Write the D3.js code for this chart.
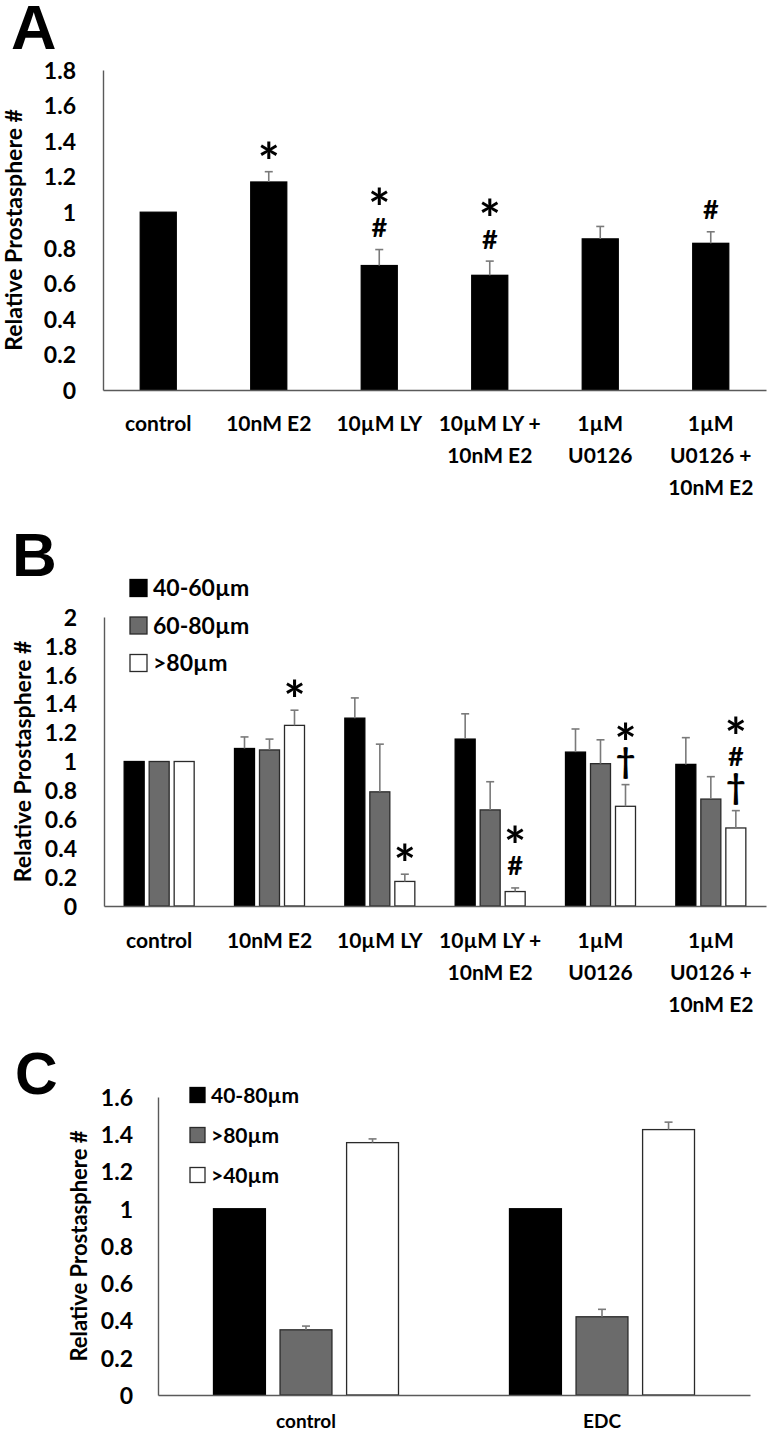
<!DOCTYPE html>
<html><head><meta charset="utf-8">
<script src="https://cdn.jsdelivr.net/npm/d3@7"></script>
<style>html,body{margin:0;padding:0;background:#fff;} svg{display:block;}</style>
</head><body><svg id="chart" width="773" height="1437"></svg>
<script>
// ---------------- data ----------------
const abCategories = [["control"], ["10nM E2"], ["10µM LY"], ["10µM LY +", "10nM E2"], ["1µM", "U0126"], ["1µM", "U0126 +", "10nM E2"]];

// Panel A
const aTicks = [0, 0.2, 0.4, 0.6, 0.8, 1, 1.2, 1.4, 1.6, 1.8];
const aValues = [1.0, 1.17, 0.70, 0.645, 0.85, 0.825];
const aErrors = [0, 0.058, 0.09, 0.08, 0.07, 0.065];
const aMarks = [[], ["*"], ["#", "*"], ["#", "*"], [], ["#"]];

// Panel B
const bSeries = ["40-60µm", "60-80µm", ">80µm"];
const bTicks = [0, 0.2, 0.4, 0.6, 0.8, 1, 1.2, 1.4, 1.6, 1.8, 2];
const b4060Values = [1, 1.09, 1.30, 1.155, 1.065, 0.98];
const b4060Errors = [0, 0.08, 0.14, 0.175, 0.16, 0.185];
const b6080Values = [1, 1.08, 0.79, 0.665, 0.985, 0.74];
const b6080Errors = [0, 0.075, 0.33, 0.195, 0.165, 0.155];
const b80Values = [1, 1.25, 0.17, 0.10, 0.69, 0.54];
const b80Errors = [0, 0.105, 0.05, 0.025, 0.15, 0.12];
const b80Marks = [[], ["*"], ["*"], ["#", "*"], ["†", "*"], ["†", "#", "*"]];

// Panel C
const cCategories = [["control"], ["EDC"]];
const cSeries = ["40-80µm", ">80µm", ">40µm"];
const cTicks = [0, 0.2, 0.4, 0.6, 0.8, 1, 1.2, 1.4, 1.6];
const c4080Values = [1, 1];
const c4080Errors = [0, 0];
const c80Values = [0.35, 0.42];
const c80Errors = [0.02, 0.04];
const c40Values = [1.355, 1.425];
const c40Errors = [0.02, 0.04];

const yTitle = "Relative Prostasphere #";

// ---------------- styles ----------------
const FONT = "Lato, 'Open Sans', sans-serif";
const seriesFill = ["#000000", "#6b6b6b", "#ffffff"];
const seriesStroke = ["#000000", "#2a2a2a", "#2a2a2a"];
const axisColor = "#5a5a5a";
const errColor = "#7a7a7a";

const svg = d3.select("#chart");
const cv = document.createElement("canvas").getContext("2d");
function inkCenterShift(ch, size) {
  cv.font = `bold ${size}px Lato`;
  const m = cv.measureText(ch);
  return (m.actualBoundingBoxAscent - m.actualBoundingBoxDescent) / 2;
}
const markSize = { "*": 52, "#": 27, "†": 34 };

function drawPanel(p) {
  const g = svg.append("g");
  const y = d3.scaleLinear().domain([0, p.yMax]).range([p.yZero, p.yTop]);
  const x = d3.scaleBand().domain(d3.range(p.categories.length)).range([p.x0, p.x1]);
  const xs = d3.scaleBand().domain(p.series.map(s => s.name))
    .range([-p.groupW / 2, p.groupW / 2]).paddingInner(p.innerPad);

  // panel letter
  g.append("text").attr("x", p.letterX).attr("y", p.letterY)
    .attr("font-family", "'Liberation Sans', Arial, sans-serif").attr("font-weight", "bold")
    .attr("font-size", p.letterSize).text(p.letter);

  // y axis
  const ya = g.append("g").attr("transform", `translate(${p.x0},0)`)
    .call(d3.axisLeft(y).tickValues(p.ticks).tickSize(0).tickSizeOuter(0).tickPadding(p.tickPad)
      .tickFormat(d3.format("~g")));
  ya.select(".domain").attr("stroke", axisColor).attr("stroke-width", 1.4);
  ya.selectAll("text").attr("font-family", FONT).attr("font-weight", "bold")
    .attr("font-size", p.tickSize).attr("fill", "#000").attr("dy", "0.36em");

  // y title
  g.append("text")
    .attr("transform", `translate(${p.titleX},${(p.yZero + p.yTop) / 2}) rotate(-90)`)
    .attr("text-anchor", "middle").attr("font-family", FONT).attr("font-weight", "bold")
    .attr("font-size", p.titleSize).text(yTitle);

  // bars
  p.series.forEach((s, si) => {
    const sg = g.append("g");
    const cx = i => x(i) + x.bandwidth() / 2 + xs(s.name);
    sg.selectAll("rect").data(s.values).join("rect")
      .attr("x", (d, i) => cx(i)).attr("width", xs.bandwidth())
      .attr("y", d => y(d)).attr("height", d => y(0) - y(d))
      .attr("fill", seriesFill[si]).attr("stroke", seriesStroke[si]).attr("stroke-width", 1.3);
    // error bars
    const eg = sg.selectAll("g.err").data(s.values.map((v, i) => ({ v, e: s.errors[i], i })).filter(d => d.e > 0))
      .join("g").attr("class", "err");
    eg.append("line")
      .attr("x1", d => cx(d.i) + xs.bandwidth() / 2).attr("x2", d => cx(d.i) + xs.bandwidth() / 2)
      .attr("y1", d => y(d.v)).attr("y2", d => y(d.v + d.e))
      .attr("stroke", errColor).attr("stroke-width", 1.6);
    eg.append("line")
      .attr("x1", d => cx(d.i) + xs.bandwidth() / 2 - 4).attr("x2", d => cx(d.i) + xs.bandwidth() / 2 + 4)
      .attr("y1", d => y(d.v + d.e)).attr("y2", d => y(d.v + d.e))
      .attr("stroke", errColor).attr("stroke-width", 1.6);
    // significance marks (one text element per stack)
    if (s.marks) {
      s.marks.forEach((ms, i) => {
        if (!ms.length) return;
        const top = y(s.values[i] + s.errors[i]);
        const mx = cx(i) + xs.bandwidth() / 2;
        const t = g.append("text").attr("text-anchor", "middle")
          .attr("font-family", FONT).attr("font-weight", "bold");
        ms.forEach((ch, k) => {
          const size = markSize[ch];
          const c = top - p.markOffset - k * p.markStep;
          t.append("tspan").attr("x", mx).attr("y", c + inkCenterShift(ch, size))
            .attr("font-size", size).text(ch);
        });
      });
    }
  });

  // x axis
  const xa = g.append("g").attr("transform", `translate(0,${y(0)})`)
    .call(d3.axisBottom(x).tickSize(0).tickSizeOuter(0).tickFormat(""));
  xa.select(".domain").attr("stroke", axisColor).attr("stroke-width", 1.4);
  xa.selectAll(".tick").each(function (d) {
    const t = d3.select(this).append("text").attr("fill", "#000")
      .attr("font-family", FONT).attr("font-weight", "bold").attr("font-size", p.labelSize)
      .attr("text-anchor", "middle");
    p.categories[d].forEach((line, li) => {
      t.append("tspan").attr("x", 0).attr("y", p.labelGap + li * p.labelLine).attr("dy", "0.36em").text(line);
    });
  });

  // legend
  if (p.legend) {
    p.series.forEach((s, si) => {
      const ly = p.legend.y + si * p.legend.step;
      g.append("rect").attr("x", p.legend.x).attr("y", ly - p.legend.box / 2)
        .attr("width", p.legend.box).attr("height", p.legend.box)
        .attr("fill", seriesFill[si]).attr("stroke", seriesStroke[si]).attr("stroke-width", 1.3);
      g.append("text").attr("x", p.legend.x + p.legend.box + 6).attr("y", ly).attr("dy", "0.36em")
        .attr("font-family", FONT).attr("font-weight", "bold").attr("font-size", p.legend.size).text(s.name);
    });
  }
}

drawPanel({
  letter: "A", letterX: 11, letterY: 49, letterSize: 63,
  x0: 103, x1: 766, yZero: 390, yTop: 70, yMax: 1.8, ticks: aTicks,
  tickPad: 27, tickSize: 23, titleX: 22, titleSize: 23,
  categories: abCategories, groupW: 36, innerPad: 0,
  series: [{ name: "A", values: aValues, errors: aErrors, marks: aMarks }],
  markOffset: 22, markStep: 32, labelGap: 33, labelLine: 32, labelSize: 21
});

drawPanel({
  letter: "B", letterX: 12, letterY: 576, letterSize: 62,
  x0: 104, x1: 766, yZero: 906, yTop: 617, yMax: 2, ticks: bTicks,
  tickPad: 27, tickSize: 23, titleX: 31, titleSize: 23,
  categories: abCategories, groupW: 70, innerPad: 0.2,
  series: [
    { name: bSeries[0], values: b4060Values, errors: b4060Errors },
    { name: bSeries[1], values: b6080Values, errors: b6080Errors },
    { name: bSeries[2], values: b80Values, errors: b80Errors, marks: b80Marks }
  ],
  markOffset: 22, markStep: 32, labelGap: 34, labelLine: 32, labelSize: 21,
  legend: { x: 130, y: 588, step: 37.5, box: 17, size: 23 }
});

drawPanel({
  letter: "C", letterX: 15, letterY: 1094, letterSize: 59,
  x0: 158, x1: 750, yZero: 1395, yTop: 1097, yMax: 1.6, ticks: cTicks,
  tickPad: 25, tickSize: 23, titleX: 87, titleSize: 22,
  categories: cCategories, groupW: 185, innerPad: 0.22,
  series: [
    { name: cSeries[0], values: c4080Values, errors: c4080Errors },
    { name: cSeries[1], values: c80Values, errors: c80Errors },
    { name: cSeries[2], values: c40Values, errors: c40Errors }
  ],
  markOffset: 22, markStep: 32, labelGap: 26, labelLine: 30, labelSize: 19,
  legend: { x: 190, y: 1095, step: 40, box: 15, size: 21 }
});
</script></body></html>
